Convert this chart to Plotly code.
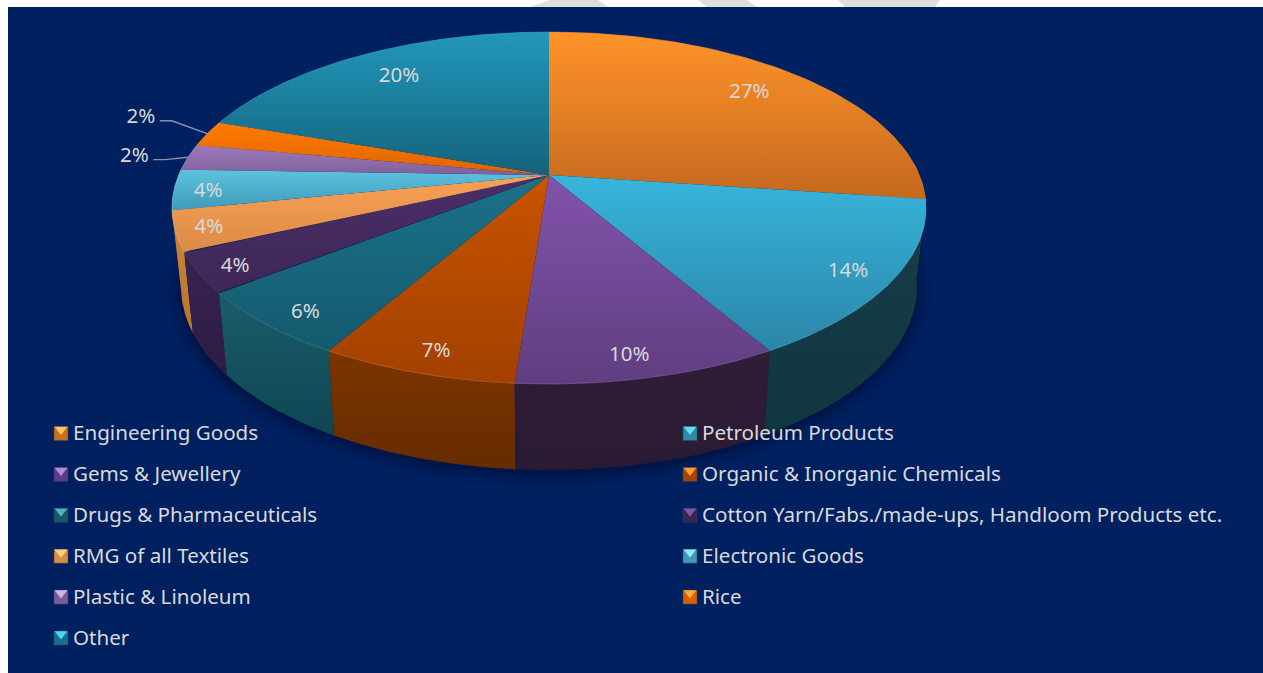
import math
import plotly.graph_objects as go

# Export shares, percent of total, clockwise from twelve o'clock
categories = ["Engineering Goods", "Petroleum Products", "Gems & Jewellery",
              "Organic & Inorganic Chemicals", "Drugs & Pharmaceuticals",
              "Cotton Yarn/Fabs./made-ups, Handloom Products etc.",
              "RMG of all Textiles", "Electronic Goods", "Plastic & Linoleum",
              "Rice", "Other"]
shares = [27.2, 14.49, 9.51, 7.1, 6.15, 3.65, 3.7, 3.7, 2.4, 2.4, 19.7]

# Surface and wall colours per slice
top_light = ["#ff9328", "#38b5dc", "#8253ab", "#c85400", "#1a7289", "#4c2e68",
             "#f9a155", "#5dc3e0", "#9d7bba", "#ff7a00", "#2297ba"]
top_dark = ["#c4681f", "#2b85a8", "#5f3e80", "#a24000", "#145a6e", "#3d2757",
            "#db8b46", "#3f9ab8", "#7f5f9c", "#df6400", "#14637c"]
wall_light = ["#b8621c", "#173e49", "#301d38", "#7c3400", "#1a5d69", "#38234f",
              "#d08638", "#2f7f98", "#5f4878", "#b85000", "#125468"]
wall_dark = ["#8f4c16", "#103640", "#2a1a33", "#662c00", "#0f4653", "#2e1c44",
             "#b87430", "#26687d", "#4c3a60", "#954000", "#0e4354"]
rim_colors = ["#e08a38", "#4fbcd8", "#8e6bb0", "#e07a30", "#3f93a5", "#5c4480",
              "#f4b27a", "#7fd0e6", "#b59bcc", "#ff9a40", "#3fa8c6"]
icon_light = ["#ffc469", "#62ddf2", "#b58be0", "#ff9a3c", "#4fb4c4", "#7a5aa0",
              "#ffd088", "#8fe6f6", "#d3b2ee", "#ffa840", "#4fd2ee"]
icon_dark = ["#c9701f", "#2c8aa4", "#5c3c84", "#a84400", "#155a68", "#3a2552",
             "#dc8c44", "#3f9ab0", "#7c5c98", "#d86000", "#14708c"]

# Label placement in the pie's own radial coordinates
label_radius = [0.81, 0.89, 0.90, 0.90, 0.90, 0.91, 0.915, 0.91, 1.152, 1.237, 0.805]
label_turn = [-1.5, 0.8, 1.2, -0.6, -1.5, -0.7, 0, -0.5, 0, 2.8, 1]

# Faint page marks showing through along the top edge
page_marks = ["M530,7 L550,0 L598,0 L608,7 Z", "M698,0 L747,0 L757,7 L707,7 Z",
              "M838,0 L940,0 L935,7 L845,7 Z"]

NAVY = "#002060"
TEXT = "#d9d9d9"
FONT = "Noto Sans"

# Perspective model of the disc: the top face is an ellipse whose centre of
# rotation sits above the ellipse centre, the base is a second ellipse below it.
CX, TOP_CY, TOP_RX, TOP_RY = 549, 208, 377, 176
BASE_CY, BASE_RX, BASE_RY = 287, 368, 183
TILT = 33 / 176
SQ = math.sqrt(1 - TILT ** 2)


def disc_point(frac, r=1.0):
    """Normalised projected position of a fraction of a turn at radius r."""
    a = 2 * math.pi * frac
    u, v = r * math.sin(a), -r * math.cos(a)
    d = 1 - TILT * v
    return u * SQ / d, (v - TILT) / d


def top_xy(frac, r=1.0):
    X, Y = disc_point(frac, r)
    return CX + TOP_RX * X, TOP_CY + TOP_RY * Y


def base_xy(frac):
    X, Y = disc_point(frac)
    return CX + BASE_RX * X, BASE_CY + BASE_RY * Y


def arc(a, b, n=70):
    return [a + (b - a) * i / n for i in range(n + 1)]


def gradient(ys, light, dark):
    return dict(type="vertical", start=min(ys), stop=max(ys),
                colorscale=[[0, light], [1, dark]])


total = sum(shares)
edges = [0.0]
for s in shares:
    edges.append(edges[-1] + s / total)

fig = go.Figure()

# Soft shadow under the base
for grow, alpha in [(14, 0.07), (9, 0.09), (5, 0.12), (2, 0.16)]:
    fr = arc(0, 1, 180)
    xs = [CX + (BASE_RX + grow) * disc_point(f)[0] for f in fr]
    ys = [BASE_CY + 3 + (BASE_RY + grow) * disc_point(f)[1] for f in fr]
    fig.add_trace(go.Scatter(x=xs, y=ys, mode="lines", line=dict(width=0),
                             fill="toself", fillcolor=f"rgba(0,10,40,{alpha})",
                             hoverinfo="skip", showlegend=False))

# Outer walls, painted from the far side of the disc to the near side
wall_order = sorted(range(len(categories)),
                    key=lambda k: disc_point((edges[k] + edges[k + 1]) / 2)[1])
for i in wall_order:
    fr = arc(edges[i], edges[i + 1])
    rim = [top_xy(f) for f in fr]
    base = [base_xy(f) for f in fr]
    xs = [p[0] for p in rim] + [p[0] for p in reversed(base)]
    ys = [p[1] for p in rim] + [p[1] for p in reversed(base)]
    fig.add_trace(go.Scatter(x=xs + xs[:1], y=ys + ys[:1], mode="lines",
                             line=dict(width=0), fill="toself",
                             fillgradient=gradient(ys, wall_light[i], wall_dark[i]),
                             name=categories[i], hoverinfo="skip", showlegend=False))

# Top face slices
for i, name in enumerate(categories):
    fr = arc(edges[i], edges[i + 1])
    rim = [top_xy(f) for f in fr]
    apex = top_xy(0, 0)
    xs = [apex[0]] + [p[0] for p in rim] + [apex[0]]
    ys = [apex[1]] + [p[1] for p in rim] + [apex[1]]
    fig.add_trace(go.Scatter(x=xs, y=ys, mode="lines", line=dict(width=0),
                             fill="toself",
                             fillgradient=gradient(ys, top_light[i], top_dark[i]),
                             name=name, hoverinfo="name", showlegend=False))

# Bevel highlight along the near rim
for i, name in enumerate(categories):
    fr = arc(edges[i], edges[i + 1])
    rim = [top_xy(f) for f in fr]
    fig.add_trace(go.Scatter(x=[p[0] for p in rim], y=[p[1] for p in rim], mode="lines",
                             line=dict(width=1, color=rim_colors[i]), opacity=0.55,
                             hoverinfo="skip", showlegend=False))

# Percentage labels
lab_x, lab_y, lab_t = [], [], []
for i, s in enumerate(shares):
    mid = (edges[i] + edges[i + 1]) / 2 + label_turn[i] / 360
    x, y = top_xy(mid, label_radius[i])
    lab_x.append(x)
    lab_y.append(y)
    lab_t.append(f"{round(s / total * 100)}%")

# Leader lines for the labels outside the disc
for i, s in enumerate(shares):
    if label_radius[i] > 1:
        mid = (edges[i] + edges[i + 1]) / 2
        rx, ry = top_xy(mid, 1.0)
        fig.add_trace(go.Scatter(x=[lab_x[i] + 19, lab_x[i] + 31, rx], y=[lab_y[i] + 5, lab_y[i] + 5, ry],
                                 mode="lines", line=dict(width=1.4, color="#8494b4"),
                                 hoverinfo="skip", showlegend=False))

fig.add_trace(go.Scatter(x=lab_x, y=[y + 2 for y in lab_y], mode="text", text=lab_t,
                         textposition="middle center",
                         textfont=dict(family=FONT, size=20.5, color=TEXT),
                         hoverinfo="skip", showlegend=False))

# Two-column key, filled row by row
ROW0, ROW_STEP = 433.5, 40.9
COL_ICON = [61, 690]
leg_x = [COL_ICON[i % 2] for i in range(len(categories))]
leg_y = [ROW0 + ROW_STEP * (i // 2) for i in range(len(categories))]
fig.add_trace(go.Scatter(x=leg_x, y=leg_y, mode="markers",
                         marker=dict(symbol="square", size=14, color=icon_dark,
                                     line=dict(width=0.5, color="#33406a")),
                         hoverinfo="skip", showlegend=False))
fig.add_trace(go.Scatter(x=leg_x, y=[y - 4 for y in leg_y], mode="markers",
                         marker=dict(symbol="triangle-down", size=11, color=icon_light,
                                     line=dict(width=0)),
                         hoverinfo="skip", showlegend=False))
fig.add_trace(go.Scatter(x=[x + 12 for x in leg_x], y=[y + 1.5 for y in leg_y], mode="text",
                         text=categories, textposition="middle right",
                         textfont=dict(family=FONT, size=20.6, color=TEXT),
                         hoverinfo="skip", showlegend=False))

marks = [dict(type="path", path=p, xref="x", yref="y", fillcolor="#dedede",
              line=dict(width=0), layer="below") for p in page_marks]

fig.update_layout(
    width=1263, height=673, margin=dict(l=0, r=0, t=0, b=0),
    paper_bgcolor="white", plot_bgcolor="white", showlegend=False,
    xaxis=dict(range=[0, 1263], visible=False, fixedrange=True),
    yaxis=dict(range=[673, 0], visible=False, fixedrange=True),
    shapes=[dict(type="rect", xref="x", yref="y", x0=8, x1=1263, y0=7, y1=673,
                 fillcolor=NAVY, line=dict(width=0), layer="below")] + marks,
)

fig.write_html("out.html", config=dict(displayModeBar=False))
